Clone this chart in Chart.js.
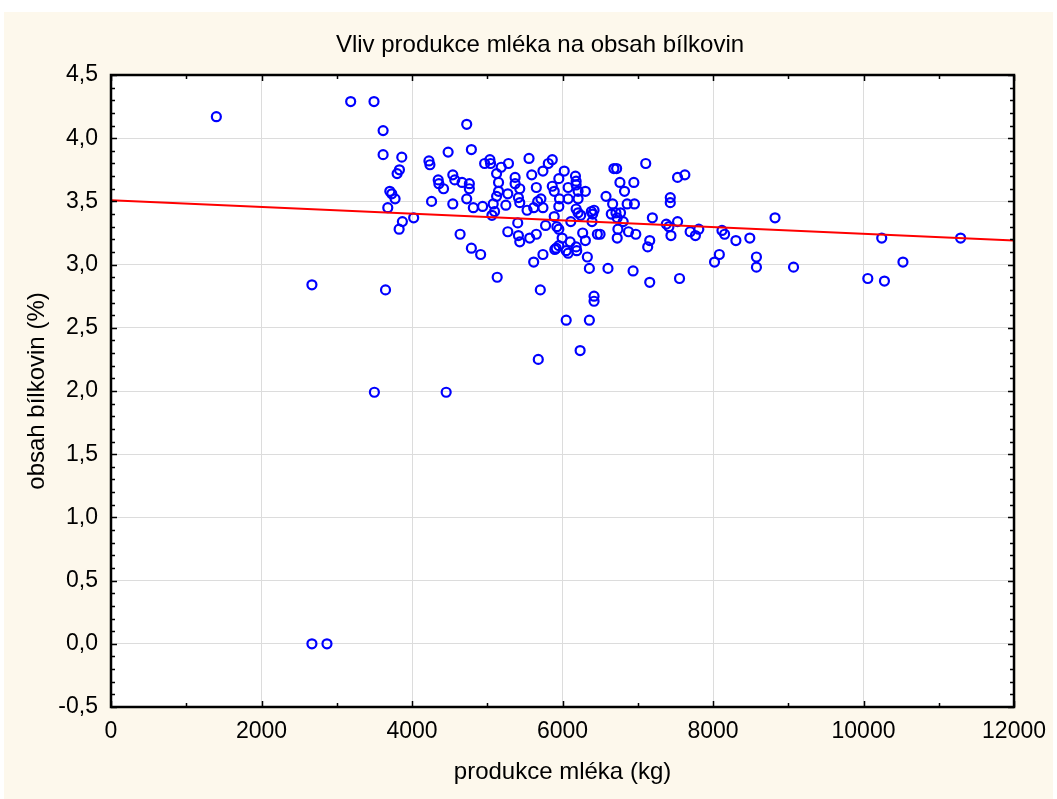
<!DOCTYPE html>
<html>
<head>
<meta charset="utf-8">
<script src="https://cdn.jsdelivr.net/npm/chart.js@4.4.1/dist/chart.umd.min.js"></script>
<style>
  html, body { margin: 0; padding: 0; background: #fff; }
  #wrap { width: 1057px; height: 799px; }
</style>
</head>
<body>
<div id="wrap"><canvas id="chart" width="1057" height="799"></canvas></div>
<script>
const TITLE = 'Vliv produkce mléka na obsah bílkovin';
const X_TITLE = 'produkce mléka (kg)';
const Y_TITLE = 'obsah bílkovin (%)';
const FONT = "'Liberation Sans', Arial, sans-serif";

// one value per cow
const milkKg = [
  1400, 2670, 2670, 2870, 3185, 3495, 3500, 3616, 3616, 3648,
  3678, 3705, 3731, 3775, 3802, 3833, 3829, 3864, 3872, 4022,
  4225, 4238, 4260, 4348, 4357, 4419, 4454, 4480, 4542, 4568,
  4542, 4639, 4665, 4727, 4727, 4762, 4762, 4789, 4789, 4815,
  4912, 4938, 4965, 5035, 5044, 5062, 5079, 5097, 5124, 5124,
  5132, 5150, 5150, 5185, 5247, 5273, 5273, 5282, 5370, 5370,
  5405, 5414, 5414, 5432, 5432, 5432, 5529, 5555, 5564, 5591,
  5617, 5617, 5652, 5652, 5670, 5678, 5705, 5713, 5740, 5740,
  5740, 5775, 5811, 5864, 5864, 5890, 5890, 5898, 5916, 5925,
  5951, 5951, 5951, 5951, 5960, 5995, 6023, 6049, 6049, 6075,
  6075, 6075, 6101, 6110, 6172, 6181, 6181, 6181, 6181, 6189,
  6207, 6207, 6207, 6234, 6242, 6268, 6304, 6304, 6330, 6357,
  6357, 6383, 6392, 6401, 6419, 6419, 6419, 6463, 6499, 6578,
  6604, 6648, 6666, 6683, 6710, 6719, 6727, 6727, 6736, 6763,
  6771, 6806, 6824, 6859, 6877, 6938, 6948, 6956, 6974, 7106,
  7132, 7159, 7159, 7194, 7379, 7414, 7432, 7432, 7441, 7529,
  7529, 7555, 7626, 7696, 7766, 7811, 8020, 8084, 8119, 8154,
  8304, 8489, 8577, 8577, 8824, 9070, 10057, 10242, 10278, 10524,
  11290,
];
const proteinPct = [
  4.17, 2.84, 0.00, 0.00, 4.29, 4.29, 1.99, 4.06, 3.87, 2.80,
  3.45, 3.58, 3.56, 3.52, 3.72, 3.75, 3.28, 3.85, 3.34, 3.37,
  3.82, 3.79, 3.50, 3.67, 3.64, 3.60, 1.99, 3.89, 3.71, 3.67,
  3.48, 3.24, 3.65, 4.11, 3.52, 3.64, 3.60, 3.91, 3.13, 3.45,
  3.08, 3.46, 3.80, 3.83, 3.80, 3.39, 3.48, 3.42, 3.72, 3.54,
  2.90, 3.65, 3.58, 3.77, 3.47, 3.56, 3.26, 3.80, 3.69, 3.64,
  3.33, 3.23, 3.53, 3.60, 3.49, 3.18, 3.43, 3.84, 3.21, 3.71,
  3.45, 3.02, 3.61, 3.24, 3.50, 2.25, 2.80, 3.52, 3.74, 3.45,
  3.08, 3.31, 3.80, 3.83, 3.62, 3.58, 3.38, 3.12, 3.13, 3.30,
  3.68, 3.46, 3.28, 3.15, 3.52, 3.21, 3.74, 3.11, 2.56, 3.61,
  3.52, 3.09, 3.18, 3.34, 3.70, 3.66, 3.63, 3.44, 3.14, 3.11,
  3.58, 3.52, 3.41, 2.32, 3.39, 3.25, 3.58, 3.19, 3.06, 2.97,
  2.56, 3.42, 3.34, 3.40, 3.43, 2.75, 2.71, 3.24, 3.24, 3.54,
  2.97, 3.40, 3.48, 3.76, 3.41, 3.76, 3.37, 3.21, 3.28, 3.65,
  3.41, 3.34, 3.58, 3.48, 3.26, 2.95, 3.65, 3.48, 3.24, 3.80,
  3.14, 3.19, 2.86, 3.37, 3.32, 3.30, 3.53, 3.49, 3.23, 3.69,
  3.34, 2.89, 3.71, 3.26, 3.23, 3.28, 3.02, 3.08, 3.27, 3.24,
  3.19, 3.21, 3.06, 2.98, 3.37, 2.98, 2.89, 3.21, 2.87, 3.02,
  3.21,
];

// regression line ends as drawn in the picture
const fitKg = [0, 12000];
const fitPct = [3.51, 3.19];

const xTicks = [0, 2000, 4000, 6000, 8000, 10000, 12000];
const yTicks = [-0.5, 0, 0.5, 1, 1.5, 2, 2.5, 3, 3.5, 4, 4.5];

// cream page, white plot, framed box with inside ticks, title
const framePlugin = {
  id: 'frame',
  beforeDraw(chart) {
    const {ctx, chartArea: a} = chart;
    ctx.save();
    ctx.fillStyle = '#ffffff';
    ctx.fillRect(0, 0, chart.width, chart.height);
    ctx.fillStyle = '#fdf8ec';
    ctx.fillRect(4, 12, chart.width - 8, chart.height - 12);
    ctx.fillStyle = '#ffffff';
    ctx.fillRect(a.left, a.top, a.right - a.left, a.bottom - a.top);
    ctx.restore();
  },
  afterDraw(chart) {
    const {ctx, chartArea: a, scales: {x, y}} = chart;
    ctx.save();
    ctx.strokeStyle = '#000';
    ctx.lineWidth = 1.5;
    ctx.beginPath();
    for (let v = 0; v <= 12000; v += 1000) {
      const px = Math.round(x.getPixelForValue(v)) + 0.5;
      const len = v % 2000 === 0 ? 6 : 4;
      ctx.moveTo(px, a.bottom); ctx.lineTo(px, a.bottom - len);
      ctx.moveTo(px, a.top); ctx.lineTo(px, a.top + len);
    }
    for (let i = -5; i <= 45; i++) {
      const py = Math.round(y.getPixelForValue(i / 10)) + 0.5;
      const len = i % 5 === 0 ? 6 : 4;
      ctx.moveTo(a.left, py); ctx.lineTo(a.left + len, py);
      ctx.moveTo(a.right, py); ctx.lineTo(a.right - len, py);
    }
    ctx.stroke();
    ctx.lineWidth = 2.5;
    ctx.strokeRect(a.left, a.top, a.right - a.left, a.bottom - a.top);

    ctx.fillStyle = '#000';
    ctx.font = '24px ' + FONT;
    ctx.textAlign = 'center';
    ctx.textBaseline = 'middle';
    ctx.fillText(TITLE, 540, 45);
    ctx.restore();
  },
};

new Chart(document.getElementById('chart'), {
  type: 'scatter',
  data: {
    datasets: [
      {
        type: 'line',
        data: fitKg.map((v, i) => ({x: v, y: fitPct[i]})),
        borderColor: '#ff0000',
        borderWidth: 2,
        pointRadius: 0,
        order: 0,
      },
      {
        data: milkKg.map((v, i) => ({x: v, y: proteinPct[i]})),
        pointStyle: 'circle',
        pointRadius: 4.5,
        pointBorderWidth: 2.2,
        pointBorderColor: '#0000ff',
        pointBackgroundColor: 'rgba(0,0,0,0)',
        order: 1,
      },
    ],
  },
  options: {
    responsive: false,
    animation: false,
    layout: {padding: {top: 75, left: 4, right: 38, bottom: 0}},
    plugins: {legend: {display: false}, tooltip: {enabled: false}},
    scales: {
      x: {
        type: 'linear',
        min: 0, max: 12000,
        afterBuildTicks: (s) => { s.ticks = xTicks.map((v) => ({value: v})); },
        afterFit: (s) => { s.height = 92; },
        grid: {color: '#dcdcdc', drawTicks: false},
        border: {display: false},
        ticks: {
          padding: 11, color: '#000', maxRotation: 0,
          font: {family: FONT, size: 23},
          callback: (v) => String(v),
        },
        title: {display: true, text: X_TITLE, color: '#000',
          font: {family: FONT, size: 24}, padding: {top: 0, bottom: 12}},
      },
      y: {
        type: 'linear',
        min: -0.5, max: 4.5,
        afterBuildTicks: (s) => { s.ticks = yTicks.map((v) => ({value: v})); },
        afterFit: (s) => { s.width = 107; },
        grid: {color: '#dcdcdc', drawTicks: false},
        border: {display: false},
        ticks: {
          padding: 13, color: '#000',
          font: {family: FONT, size: 23},
          callback: (v) => v.toFixed(1).replace('.', ','),
        },
        title: {display: true, text: Y_TITLE, color: '#000',
          font: {family: FONT, size: 24}, padding: {top: 19, bottom: 0}},
      },
    },
  },
  plugins: [framePlugin],
});
</script>
</body>
</html>
